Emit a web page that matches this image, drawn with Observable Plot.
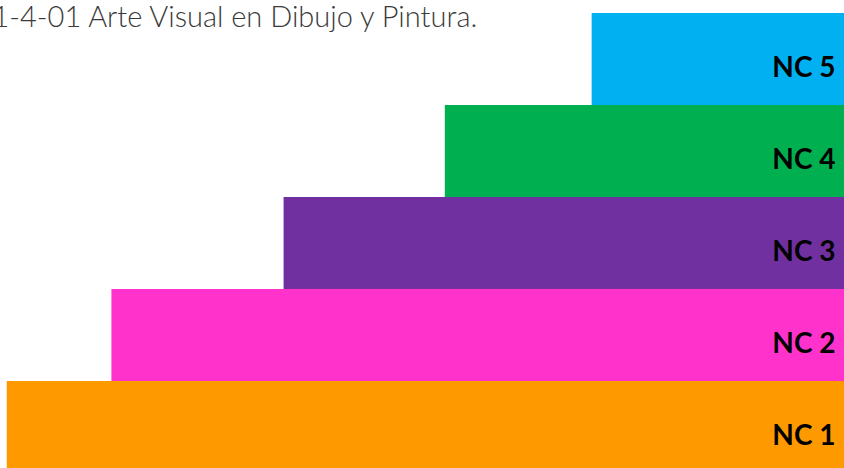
<!DOCTYPE html>
<html><head><meta charset="utf-8">
<script src="https://cdn.jsdelivr.net/npm/d3@7"></script>
<script src="https://cdn.jsdelivr.net/npm/@observablehq/plot@0.6"></script>
<style>
body{margin:0;overflow:hidden;background:#fff}
#chart{width:844px;height:468px;overflow:hidden;position:relative}
#chart svg{overflow:hidden}
</style>
</head><body><div id="chart"></div>
<script>
const levels = ["NC 5", "NC 4", "NC 3", "NC 2", "NC 1"];
const lengths = [29.9, 47.3, 66.4, 86.8, 99.2];
const colors = ["#00B0F0", "#00B050", "#7030A0", "#FF33CC", "#FF9900"];
const title = ["1-4-01 Arte Visual en Dibujo y Pintura."];

const data = levels.map((l, i) => ({level: l, length: lengths[i]}));

const plot = Plot.plot({
  width: 844,
  height: 468,
  margin: 0,
  style: {background: "#fff", overflow: "hidden"},
  x: {domain: [0, 100], range: [844, 0], axis: null},
  y: {domain: levels, range: [12, 474.5], padding: 0, axis: null},
  color: {domain: levels, range: colors},
  marks: [
    Plot.barX(data, {y: "level", x1: 0, x2: "length", fill: "level", inset: 0}),
    Plot.text(data, {
      y: "level", x: 0, text: "level", textAnchor: "end",
      dx: -9, dy: 9, fontSize: 28, fontWeight: "bold", fill: "#000",
      fontFamily: "Lato"
    }),
    Plot.text(title, {
      frameAnchor: "top-left", text: d => d, textAnchor: "start", lineAnchor: "top",
      dx: -8, dy: 6, fontSize: 29, fontWeight: 300, fill: "#3a3a3a",
      fontFamily: "Lato"
    })
  ]
});
document.getElementById("chart").appendChild(plot);
</script>
</body></html>
